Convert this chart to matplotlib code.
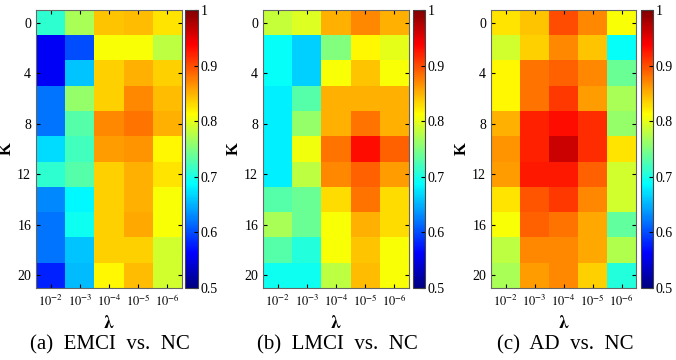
import numpy as np
import matplotlib.pyplot as plt
from matplotlib.colors import LinearSegmentedColormap

plt.rcParams['font.family'] = ['Liberation Serif', 'DejaVu Serif']
plt.rcParams['mathtext.fontset'] = 'stix'

# Grid of parameters
lambdas = ['$10^{-2}$', '$10^{-3}$', '$10^{-4}$', '$10^{-5}$', '$10^{-6}$']
ks = [0, 2, 4, 6, 8, 10, 12, 14, 16, 18, 20]
titles = ['(a)  EMCI  vs.  NC', '(b)  LMCI  vs.  NC', '(c)  AD  vs.  NC']

# accuracy values, rows = K, columns = lambda
emci = [
    [0.71, 0.77, 0.84, 0.845, 0.825],
    [0.56, 0.60, 0.81, 0.81, 0.78],
    [0.56, 0.66, 0.835, 0.85, 0.835],
    [0.62, 0.76, 0.835, 0.87, 0.845],
    [0.62, 0.73, 0.87, 0.88, 0.85],
    [0.67, 0.72, 0.86, 0.865, 0.815],
    [0.71, 0.73, 0.835, 0.85, 0.825],
    [0.63, 0.685, 0.835, 0.85, 0.81],
    [0.62, 0.695, 0.835, 0.855, 0.81],
    [0.62, 0.66, 0.835, 0.835, 0.79],
    [0.58, 0.655, 0.815, 0.845, 0.79],
]
lmci = [
    [0.785, 0.795, 0.85, 0.87, 0.85],
    [0.69, 0.665, 0.75, 0.815, 0.80],
    [0.69, 0.665, 0.81, 0.84, 0.81],
    [0.68, 0.73, 0.85, 0.85, 0.85],
    [0.68, 0.76, 0.85, 0.88, 0.85],
    [0.68, 0.805, 0.88, 0.93, 0.89],
    [0.68, 0.78, 0.87, 0.89, 0.86],
    [0.73, 0.74, 0.83, 0.88, 0.83],
    [0.77, 0.74, 0.81, 0.85, 0.83],
    [0.73, 0.705, 0.81, 0.84, 0.81],
    [0.695, 0.695, 0.78, 0.845, 0.81],
]
ad = [
    [0.825, 0.84, 0.90, 0.87, 0.81],
    [0.79, 0.835, 0.87, 0.84, 0.69],
    [0.815, 0.88, 0.89, 0.87, 0.74],
    [0.815, 0.88, 0.91, 0.86, 0.77],
    [0.85, 0.92, 0.93, 0.915, 0.76],
    [0.865, 0.92, 0.962, 0.915, 0.825],
    [0.86, 0.925, 0.925, 0.89, 0.79],
    [0.825, 0.895, 0.91, 0.87, 0.79],
    [0.81, 0.89, 0.88, 0.855, 0.735],
    [0.78, 0.87, 0.87, 0.855, 0.775],
    [0.77, 0.86, 0.87, 0.835, 0.705],
]

# MATLAB style jet
mjet = LinearSegmentedColormap.from_list('mjet', [
    (0.0, (0, 0, 0.5)), (0.125, (0, 0, 1)), (0.375, (0, 1, 1)),
    (0.625, (1, 1, 0)), (0.875, (1, 0, 0)), (1.0, (0.5, 0, 0))], N=256)

fig = plt.figure(figsize=(6.76, 3.6), dpi=100)
W, H = 676, 360

# pixel boxes: heatmap left, right, colorbar left, right
boxes = [(36, 182, 185, 198), (263, 409, 413, 425), (491, 636, 641, 653)]
top, bottom = 10, 288

for data, title, (x0, x1, c0, c1) in zip([emci, lmci, ad], titles, boxes):
    ax = fig.add_axes([x0 / W, 1 - bottom / H, (x1 - x0) / W, (bottom - top) / H])
    im = ax.imshow(np.array(data), cmap=mjet, vmin=0.5, vmax=1, aspect='auto',
                   interpolation='nearest', extent=[0.5, 5.5, 21, -1])
    ax.set_xticks(range(1, 6))
    ax.set_xticklabels(lambdas, fontsize=9)
    ax.set_yticks([0, 4, 8, 12, 16, 20])
    ax.tick_params(axis='y', labelsize=10, direction='in', right=True, length=3)
    ax.tick_params(axis='x', direction='in', top=True, length=3, pad=4)
    ax.set_xlabel(r'$\boldsymbol{\lambda}$', fontsize=13, labelpad=4)
    ax.set_ylabel('K', fontsize=12, fontweight='bold')
    ax.yaxis.set_label_coords(-0.145, 0.5)
    for s in ax.spines.values():
        s.set_color('#666666')
    cax = fig.add_axes([c0 / W, 1 - bottom / H, (c1 - c0) / W, (bottom - top) / H])
    cb = fig.colorbar(im, cax=cax, ticks=[0.5, 0.6, 0.7, 0.8, 0.9, 1])
    cb.ax.set_yticklabels(['0.5', '0.6', '0.7', '0.8', '0.9', '1'])
    cb.ax.tick_params(labelsize=10, direction='in', length=3, pad=2)
    cb.outline.set_edgecolor('#444444')
    fig.text((x0 + c1) / 2 / W - 0.01, 1 - 345 / H, title, ha='center', va='center', fontsize=15)

fig.savefig('out.png', dpi=100)
